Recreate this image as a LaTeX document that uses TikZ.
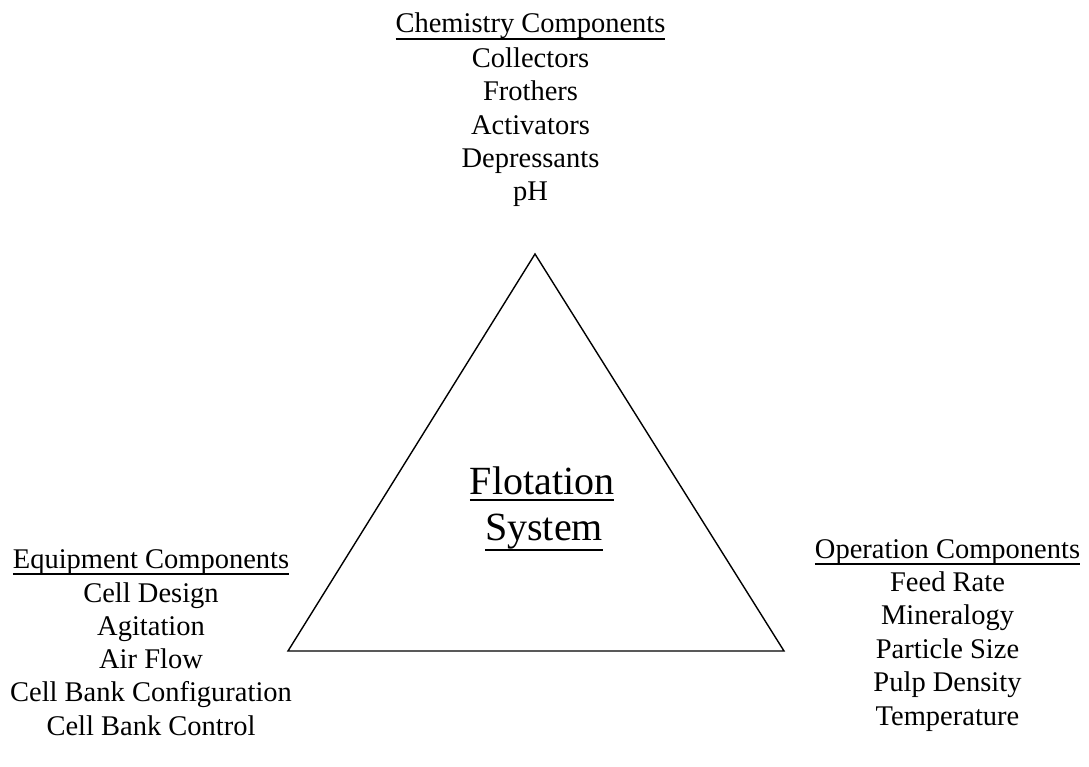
\documentclass[tikz,border=0pt]{standalone}
\usepackage{fontspec}
\setmainfont{Liberation Serif}
\newcommand{\thickul}[2][5pt]{\vtop{\hbox{\raisebox{0pt}[\height][0pt]{#2}}\kern#1\hrule height 1.6pt}}
\begin{document}
\begin{tikzpicture}[x=1pt,y=-1pt,
  lbl/.style={anchor=base,inner sep=0pt,font=\fontsize{28.5}{33}\selectfont},
  big/.style={anchor=base,inner sep=0pt,font=\fontsize{40}{46}\selectfont},
  edge/.style={draw=black,line width=1.4pt,line join=miter}]
\useasboundingbox (0,0) rectangle (1089,767);
% triangle
\coordinate (apex) at (535,254);
\coordinate (bl) at (288,651);
\coordinate (br) at (784,651);
\draw[edge] (apex) -- (bl) -- (br) -- cycle;
% centre
\node[big] (flot) at (542,494) {\thickul[5pt]{Flotation}};
\node[big] (sys) at (544,540) {\thickul[9pt]{System}};
% chemistry
\node[lbl] (chem) at (530.5,33) {\thickul{Chemistry Components}};
\foreach \t [count=\i] in {Collectors,Frothers,Activators,Depressants,pH}
  \node[lbl] (chem\i) at (530.5,34.5+33.2*\i) {\t};
% equipment
\node[lbl] (equip) at (151,568) {\thickul{Equipment Components}};
\foreach \t [count=\i] in {Cell Design,Agitation,Air Flow,Cell Bank Configuration,Cell Bank Control}
  \node[lbl] (equip\i) at (151,569+33.2*\i) {\t};
% operation
\node[lbl] (oper) at (947.5,558) {\thickul{Operation Components}};
\foreach \t [count=\i] in {Feed Rate,Mineralogy,Particle Size,Pulp Density,Temperature}
  \node[lbl] (oper\i) at (947.5,558+33.4*\i) {\t};
\end{tikzpicture}
\end{document}
